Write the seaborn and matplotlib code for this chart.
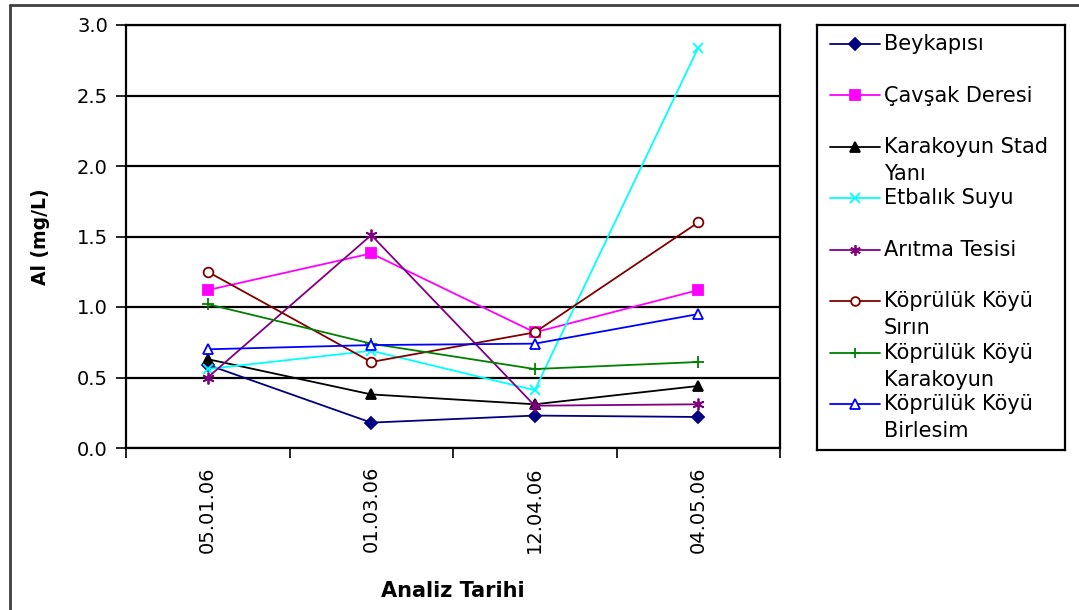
import matplotlib
matplotlib.use("Agg")
import matplotlib.pyplot as plt
from matplotlib.lines import Line2D
from matplotlib.ticker import FixedLocator, FormatStrFormatter
import seaborn as sns
import numpy as np

# Sampling dates (x categories)
dates = ["05.01.06", "01.03.06", "12.04.06", "04.05.06"]

# Aluminium concentration (mg/L) per sampling station
beykapisi = [0.59, 0.18, 0.23, 0.22]
cavsak_deresi = [1.12, 1.38, 0.82, 1.12]
karakoyun_stad = [0.63, 0.38, 0.31, 0.44]
etbalik_suyu = [0.56, 0.69, 0.41, 2.84]
aritma_tesisi = [0.50, 1.51, 0.30, 0.31]
koprulu_sirin = [1.25, 0.61, 0.82, 1.60]
koprulu_karakoyun = [1.02, 0.74, 0.56, 0.61]
koprulu_birlesim = [0.70, 0.73, 0.74, 0.95]

station_names = ["Beykapısı", "Çavşak Deresi", "Karakoyun Stad\nYanı", "Etbalık Suyu",
                 "Arıtma Tesisi", "Köprülük Köyü\nSırın", "Köprülük Köyü\nKarakoyun",
                 "Köprülük Köyü\nBirlesim"]
series = [beykapisi, cavsak_deresi, karakoyun_stad, etbalik_suyu,
          aritma_tesisi, koprulu_sirin, koprulu_karakoyun, koprulu_birlesim]

colors = ["#000080", "#FF00FF", "#000000", "#00FFFF", "#800080", "#800000", "#008000", "#0000FF"]
markers = ["D", "s", "^", "x", (6, 2, 0), "o", "+", "^"]
msizes = [6.5, 7.5, 7.5, 7.5, 8.5, 7, 8.5, 7.5]
faces = [None, None, None, None, None, "white", None, "white"]

sns.set_theme(style="white")
plt.rcParams["font.family"] = ["DejaVu Sans"]
plt.rcParams["text.color"] = "black"
plt.rcParams["axes.labelcolor"] = "black"
plt.rcParams["xtick.color"] = "black"
plt.rcParams["ytick.color"] = "black"

fig = plt.figure(figsize=(10.79, 6.10), dpi=100)
W, H = 1079, 610

ax = fig.add_axes([126 / W, 1 - 448 / H, (780 - 126) / W, (448 - 25) / H])
xpos = np.arange(len(dates))

for vals, c, m, ms, fc in zip(series, colors, markers, msizes, faces):
    sns.lineplot(x=xpos, y=vals, ax=ax, color=c, marker=m, markersize=ms,
                 markerfacecolor=(fc if fc else c), markeredgecolor=c,
                 markeredgewidth=1.3, linewidth=1.3, legend=False)

ax.set_xlim(-0.5, len(dates) - 0.5)
ax.set_ylim(0, 3.0)
ax.yaxis.set_major_locator(FixedLocator(np.arange(0, 3.01, 0.5)))
ax.yaxis.set_major_formatter(FormatStrFormatter("%.1f"))
ax.grid(axis="y", color="black", linewidth=1.6)
ax.grid(axis="x", visible=False)
ax.set_axisbelow(True)

# category boundaries carry the tick marks, labels sit at category centres
ax.xaxis.set_major_locator(FixedLocator(np.arange(-0.5, len(dates), 1.0)))
ax.xaxis.set_major_formatter(plt.NullFormatter())
ax.xaxis.set_minor_locator(FixedLocator(xpos))
ax.set_xticklabels(dates, minor=True, rotation=90, fontsize=14)
ax.tick_params(axis="x", which="major", direction="out", length=7, width=1.2, color="black", bottom=True)
ax.tick_params(axis="x", which="minor", length=0, pad=13)
ax.tick_params(axis="y", direction="out", length=7, width=1.2, color="black", left=True,
               labelsize=14, pad=6)

for s in ax.spines.values():
    s.set_color("black")
    s.set_linewidth(1.6)

ax.set_ylabel("Al (mg/L)", fontsize=13.5, fontweight="bold")
ax.yaxis.set_label_coords(-(126 - 50) / (780 - 126), 0.5)
ax.set_xlabel("Analiz Tarihi", fontsize=15, fontweight="bold")
ax.xaxis.set_label_coords(0.5, -(581 - 448) / (448 - 25))

# Legend panel
lax = fig.add_axes([817 / W, 1 - 450 / H, (1065 - 817) / W, (450 - 25) / H])
lax.set_xlim(817, 1065)
lax.set_ylim(450, 25)
lax.set_xticks([])
lax.set_yticks([])
for s in lax.spines.values():
    s.set_color("black")
    s.set_linewidth(1.6)

top_y, step = 44, 51.5
for i, (name, c, m, ms, fc) in enumerate(zip(station_names, colors, markers, msizes, faces)):
    y = top_y + i * step
    lax.add_line(Line2D([830, 880], [y, y], color=c, linewidth=1.3))
    lax.add_line(Line2D([855], [y], color=c, marker=m, markersize=ms * 0.9,
                        markerfacecolor=(fc if fc else c), markeredgecolor=c, markeredgewidth=1.3))
    for j, ln in enumerate(name.split("\n")):
        lax.text(884, y + j * 27, ln, fontsize=15, va="center", ha="left", color="black")

# outer chart frame (left and top edges)
fig.add_artist(Line2D([10 / W, 10 / W], [0, 1 - 5 / H], transform=fig.transFigure,
                      color="#404040", linewidth=2))
fig.add_artist(Line2D([10 / W, 1], [1 - 5 / H, 1 - 5 / H], transform=fig.transFigure,
                      color="#404040", linewidth=2))

fig.savefig("out.png", dpi=100, facecolor="white")
